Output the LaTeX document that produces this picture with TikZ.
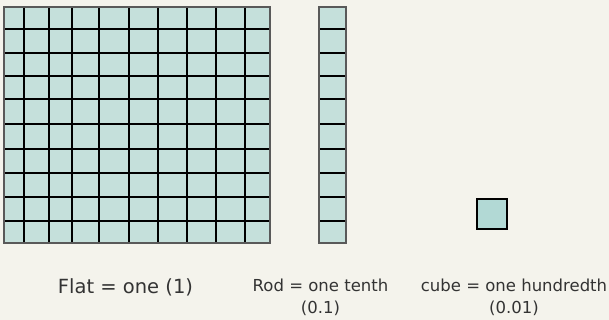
\documentclass[tikz,border=0pt]{standalone}
\usepackage{fontspec}
\setmainfont{DejaVu Sans}
\usetikzlibrary{positioning}

\definecolor{paper}{HTML}{F4F3EC}
\definecolor{tile}{HTML}{C5E0DB}
\definecolor{unittile}{HTML}{B2D9D5}

\begin{document}
\begin{tikzpicture}[x=1pt, y=-1pt,
    base/.style={draw=black!65, line width=1.4pt},
    gridline/.style={black, line width=1.8pt},
    caption/.style={font=\fontsize{16.5}{22}\selectfont, align=center, text=black!80, inner sep=0pt}
]

\fill[paper] (0,0) rectangle (609,320);
\useasboundingbox (0,0) rectangle (609,320);

% flat: ten by ten
\fill[tile] (4,7) rectangle (270,243);
\foreach \x in {24,49,72,99,129,158,187,216,245}
    \draw[gridline] (\x,7) -- (\x,243);
\foreach \y in {29,53,76,99,124,149,173,197,221}
    \draw[gridline] (4,\y) -- (270,\y);
\draw[base] (4,7) rectangle (270,243);

% rod: one column
\fill[tile] (319,7) rectangle (346,243);
\foreach \y in {29,53,76,99,124,149,173,197,221}
    \draw[gridline] (319,\y) -- (346,\y);
\draw[base] (319,7) rectangle (346,243);

% cube
\draw[base, draw=black, line width=2.2pt, fill=unittile] (477,199) rectangle (507,229);

\node[caption, font=\fontsize{19.5}{22}\selectfont] (flatlbl) at (125.5,287) {Flat = one (1)};
\node[caption] (rodlbl) at (320.5,297) {Rod = one tenth\\(0.1)};
\node[caption] (cubelbl) at (514,297) {cube = one hundredth\\(0.01)};

\end{tikzpicture}
\end{document}
